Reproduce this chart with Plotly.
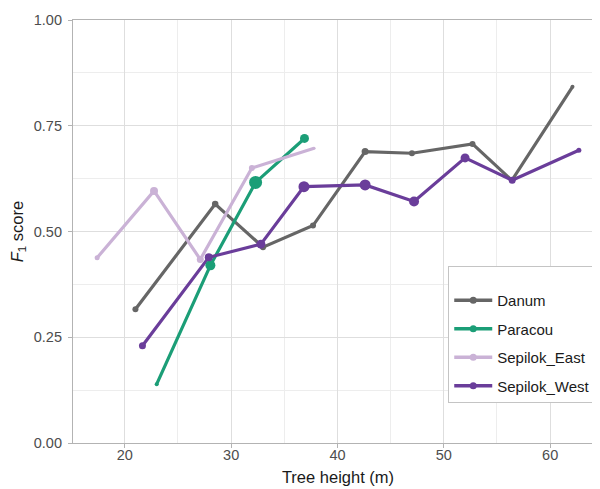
import plotly.graph_objects as go

sites = ["Danum", "Paracou", "Sepilok_East", "Sepilok_West"]
colors = {"Danum": "#666666", "Paracou": "#1b9e77",
          "Sepilok_East": "#cab2d6", "Sepilok_West": "#6a3d9a"}

danum_x = [21.0, 28.5, 33.0, 37.7, 42.6, 47.0, 52.7, 56.4, 62.1]
danum_y = [0.316, 0.565, 0.463, 0.514, 0.689, 0.685, 0.707, 0.621, 0.842]
danum_n = [6, 6.5, 6, 6, 7, 6, 6, 5, 4]

paracou_x = [23.0, 28.05, 32.3, 36.9]
paracou_y = [0.139, 0.420, 0.616, 0.720]
paracou_n = [4, 10, 13, 9]

seast_x = [17.4, 22.75, 27.1, 31.95, 37.8]
seast_y = [0.438, 0.596, 0.434, 0.650, 0.697]
seast_n = [5, 8, 7, 6, 3]

swest_x = [21.66, 27.9, 32.8, 36.85, 42.6, 47.2, 52.0, 56.43, 62.7]
swest_y = [0.230, 0.439, 0.470, 0.606, 0.610, 0.571, 0.674, 0.621, 0.692]
swest_n = [7, 8, 9, 11, 11, 10, 9, 7, 5]

x_ticks = [20, 30, 40, 50, 60]
y_ticks = [0, 0.25, 0.5, 0.75, 1.0]
y_tick_labels = ["0.00", "0.25", "0.50", "0.75", "1.00"]

data = {
    "Danum": (danum_x, danum_y, danum_n),
    "Paracou": (paracou_x, paracou_y, paracou_n),
    "Sepilok_East": (seast_x, seast_y, seast_n),
    "Sepilok_West": (swest_x, swest_y, swest_n),
}

fig = go.Figure()
# lines layer
for s in sites:
    x, y, n = data[s]
    fig.add_trace(go.Scatter(x=x, y=y, mode="lines", showlegend=False,
                             line=dict(color=colors[s], width=3.2), hoverinfo="skip"))
# points layer
for s in sites:
    x, y, n = data[s]
    fig.add_trace(go.Scatter(x=x, y=y, mode="markers", showlegend=False, name=s,
                             marker=dict(color=colors[s], size=n, opacity=1,
                                         line=dict(width=0))))
# legend entries
for s in sites:
    fig.add_trace(go.Scatter(x=[None], y=[None], mode="lines+markers", name=s,
                             legendgroup=s,
                             line=dict(color=colors[s], width=3.5),
                             marker=dict(color=colors[s], size=7, opacity=1)))

grid_major = "#dedede"
grid_minor = "#ededed"
axis_col = "#b3b3b3"

fig.update_layout(
    width=600, height=489,
    margin=dict(l=65.3, r=4, t=8, b=53.7, pad=0),
    paper_bgcolor="white", plot_bgcolor="white",
    font=dict(family="Liberation Sans, Arial, sans-serif", size=14, color="#4d4d4d"),
    legend=dict(x=0.708, y=0.418, xanchor="left", yanchor="top",
                bgcolor="white", bordercolor="#c4c4c4", borderwidth=1,
                font=dict(size=15, color="#1a1a1a"),
                tracegroupgap=6, itemwidth=38,
                title=dict(text=" ", font=dict(size=13))),
)
fig.update_xaxes(
    range=[15.13, 64.97], tickvals=x_ticks,
    showgrid=True, gridcolor=grid_major, gridwidth=1,
    minor=dict(tickvals=[15, 25, 35, 45, 55, 65], showgrid=True, gridcolor=grid_minor,
               gridwidth=0.8, ticks=""),
    showline=True, linecolor=axis_col, linewidth=1.2, mirror=True,
    ticks="outside", ticklen=4, tickcolor=axis_col, ticklabelstandoff=-6,
    tickfont=dict(size=14.5, color="#4d4d4d"),
    zeroline=False,
    title=dict(text="Tree height (m)", font=dict(size=16.5, color="#1a1a1a"), standoff=9),
)
fig.update_yaxes(
    range=[0, 1], tickvals=y_ticks, ticktext=y_tick_labels,
    showgrid=True, gridcolor=grid_major, gridwidth=1,
    minor=dict(tickvals=[0.125, 0.375, 0.625, 0.875], showgrid=True, gridcolor=grid_minor,
               gridwidth=0.8, ticks=""),
    showline=True, linecolor=axis_col, linewidth=1.2, mirror=True,
    ticks="outside", ticklen=4, tickcolor=axis_col, ticklabelstandoff=3,
    tickfont=dict(size=14.5, color="#4d4d4d"),
    zeroline=False,
    title=dict(text="<i>F</i><sub>1</sub> score", font=dict(size=16.5, color="#1a1a1a"),
               standoff=7),
)

fig.write_html("out.html")
